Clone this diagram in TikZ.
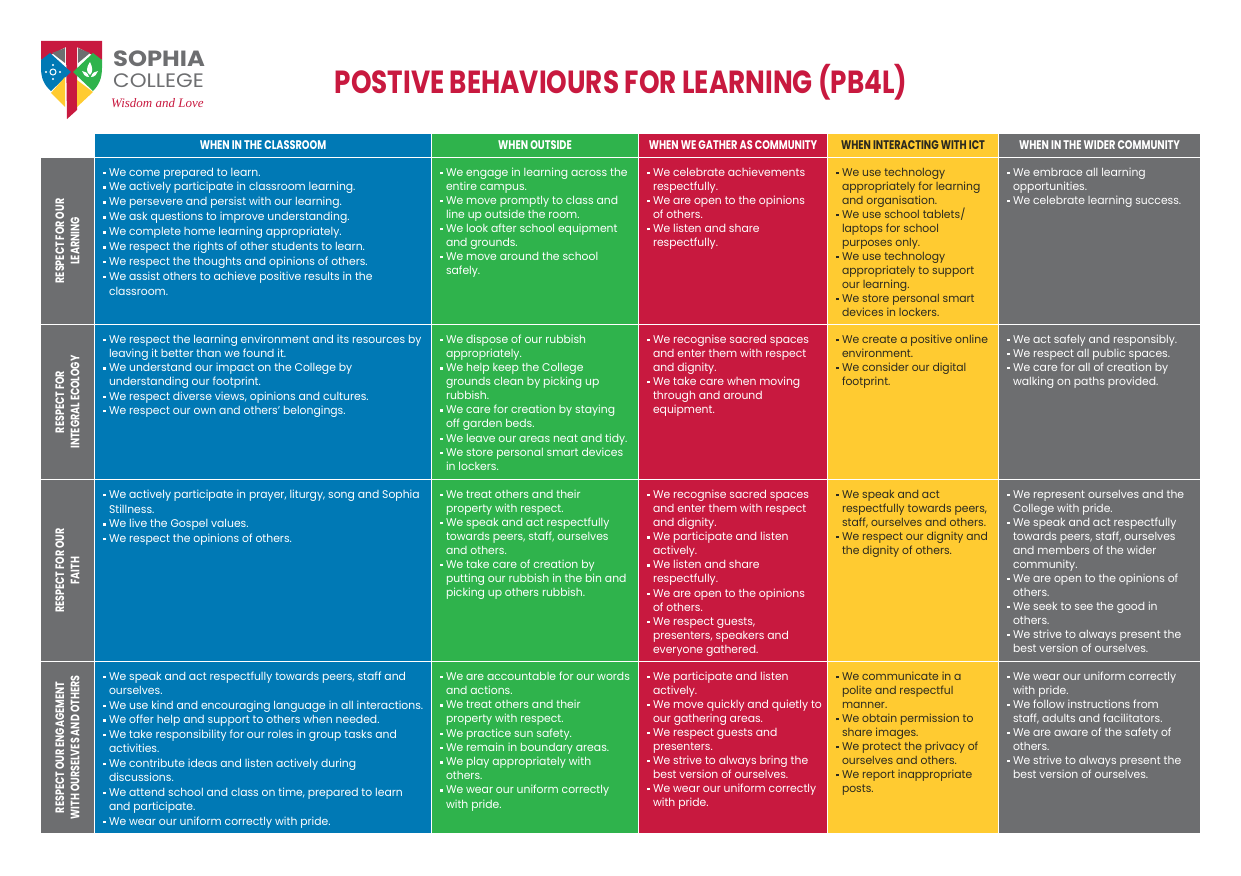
\documentclass[tikz,border=0pt]{standalone}
\usepackage{fontspec}
\setmainfont[FakeStretch=0.965]{Poppins}
\newfontfamily\headf[FakeStretch=0.78]{Poppins Bold}
\newfontfamily\titlef[FakeStretch=0.82]{Poppins Bold}
\newfontfamily\logof[FakeStretch=1.1]{Poppins}
\newfontfamily\scriptf{Liberation Serif}
\definecolor{cblue}{HTML}{0079B5}
\definecolor{cgreen}{HTML}{2FB34C}
\definecolor{cred}{HTML}{C8193F}
\definecolor{cyellow}{HTML}{FFCB31}
\definecolor{cgray}{HTML}{6D6E70}
\definecolor{cdark}{HTML}{2B2A20}
\newcommand{\I}{\makebox[6pt][l]{\raisebox{2pt}{\rule{2.5pt}{2.5pt}}}}
\newcommand{\C}{\hspace*{6pt}}
\newcommand{\bodyfs}[1]{\fontsize{11.2}{#1}\selectfont}
\tikzset{
  cellbox/.style={anchor=north west,inner sep=0pt,outer sep=0pt,draw=none},
  celltext/.style={anchor=north west,inner sep=0pt,outer sep=0pt,align=left},
  headtext/.style={anchor=center,inner sep=0pt,font=\headf\fontsize{12.5}{14}\selectfont},
  sidetext/.style={anchor=center,inner sep=0pt,rotate=90,align=center,text=white,font=\headf\fontsize{12.2}{15.2}\selectfont},
}
% name, x, y, w, h, fill, textcolour, leading, text
\newcommand{\bodycell}[9]{%
  \node[cellbox,fill=#6,minimum width=#4pt,minimum height=#5pt] (#1) at (#2,#3) {};
  \node[celltext,text=#7,font=\bodyfs{#8}] (#1t) at ([shift={(8pt,-9.8pt)}]#1.north west) {#9};
}
\newcommand{\headcell}[7]{%
  \node[cellbox,fill=#6,minimum width=#4pt,minimum height=#5pt] (#1) at (#2,#3) {};
  \node[headtext,text=#7] (#1t) at (#1.center) {\csname hd#1\endcsname};
}
\newcommand{\sidecell}[6]{%
  \node[cellbox,fill=cgray,minimum width=#4pt,minimum height=#5pt] (#1) at (#2,#3) {};
  \node[sidetext] (#1t) at (#1.center) {#6};
}
\expandafter\def\csname hdh1\endcsname{WHEN IN THE CLASSROOM}
\expandafter\def\csname hdh2\endcsname{WHEN OUTSIDE}
\expandafter\def\csname hdh3\endcsname{WHEN WE GATHER AS COMMUNITY}
\expandafter\def\csname hdh4\endcsname{WHEN INTERACTING WITH ICT}
\expandafter\def\csname hdh5\endcsname{WHEN IN THE WIDER COMMUNITY}
\begin{document}
\begin{tikzpicture}[x=1pt,y=-1pt]
\useasboundingbox (0,0) rectangle (1241,875);
% logo
\fill[cred] (41,41) -- (102,41) -- (102,60) -- (77,47) -- (77,110) -- (67,119) -- (66,47) -- (41,60) -- cycle;
\fill[cgray] (52,53) -- (65,48) -- (65,63) -- cycle;
\fill[cgray] (78,48) -- (90,53) -- (78,63) -- cycle;
\fill[cblue] (41,60) -- (50,53) -- (71,72) -- (51,91) .. controls (44,85) and (41,78) .. (41,68) -- cycle;
\fill[cgreen] (102,60) -- (93,53) -- (73,72) -- (93,91) .. controls (99,85) and (102,78) .. (102,68) -- cycle;
\fill[cyellow] (51,93) -- (65,77) -- (65,107) -- cycle;
\fill[cyellow] (77,80) -- (93,92) -- (77,107) -- cycle;
\foreach \a/\b in {46/72,53/65,53/79,60/72} \fill[white] (\a,\b) circle (1.2pt);
\draw[white,line width=1pt] (53,72) circle (3pt);
\fill[white] (90,75) .. controls (86,72) and (86,68) .. (90,62) .. controls (93,68) and (93,72) .. (90,75) -- cycle;
\fill[white] (89,77) .. controls (85,77) and (83,74) .. (82,71) .. controls (85,71) and (88,73) .. (89,77) -- cycle;
\fill[white] (91,77) .. controls (95,77) and (97,74) .. (98,71) .. controls (95,71) and (92,73) .. (91,77) -- cycle;
\node[anchor=west,inner sep=0pt,text=cgray,font=\logof\bfseries\fontsize{22}{22}\selectfont] (logoa) at (113,59) {SOPHIA};
\node[anchor=west,inner sep=0pt,text=cgray,font=\logof\fontsize{19.5}{20}\selectfont] (logob) at (113,80.5) {COLLEGE};
\node[anchor=west,inner sep=0pt,text=cred,font=\scriptf\itshape\fontsize{13}{14}\selectfont] (logoc) at (111,103.5) {Wisdom and Love};
% title
\node[anchor=center,inner sep=0pt,text=cred,font=\titlef\fontsize{32}{34}\selectfont] (title) at (621,82) {POSTIVE BEHAVIOURS FOR LEARNING (PB4L)};
% headers
\headcell{h1}{95}{134}{336}{23}{cblue}{white}
\headcell{h2}{432}{134}{206}{23}{cgreen}{white}
\headcell{h3}{639}{134}{188}{23}{cred}{white}
\headcell{h4}{828}{134}{170}{23}{cyellow}{cdark}
\headcell{h5}{999}{134}{201}{23}{cgray}{white}
% side
\sidecell{s1}{41}{158}{53}{166}{RESPECT FOR OUR\\LEARNING}
\sidecell{s2}{41}{325}{53}{154}{RESPECT FOR\\INTEGRAL ECOLOGY}
\sidecell{s3}{41}{480}{53}{181}{RESPECT FOR OUR\\FAITH}
\sidecell{s4}{41}{662}{53}{171}{RESPECT OUR ENGAGEMENT\\WITH OURSELVES AND OTHERS}
% row 1
\bodycell{c11}{95}{158}{336}{166}{cblue}{white}{14.9}{\I We come prepared to learn.\\\I We actively participate in classroom learning.\\\I We persevere and persist with our learning.\\\I We ask questions to improve understanding.\\\I We complete home learning appropriately.\\\I We respect the rights of other students to learn.\\\I We respect the thoughts and opinions of others.\\\I We assist others to achieve positive results in the\\\C classroom.}
\bodycell{c12}{432}{158}{206}{166}{cgreen}{white}{14}{\I We engage in learning across the\\\C entire campus.\\\I We move promptly to class and\\\C line up outside the room.\\\I We look after school equipment\\\C and grounds.\\\I We move around the school\\\C safely.}
\bodycell{c13}{639}{158}{188}{166}{cred}{white}{14}{\I We celebrate achievements\\\C respectfully.\\\I We are open to the opinions\\\C of others.\\\I We listen and share\\\C respectfully.}
\bodycell{c14}{828}{158}{170}{166}{cyellow}{cdark}{14}{\I We use technology\\\C appropriately for learning\\\C and organisation.\\\I We use school tablets/\\\C laptops for school\\\C purposes only.\\\I We use technology\\\C appropriately to support\\\C our learning.\\\I We store personal smart\\\C devices in lockers.}
\bodycell{c15}{999}{158}{201}{166}{cgray}{white}{14}{\I We embrace all learning\\\C opportunities.\\\I We celebrate learning success.}
% row 2
\bodycell{c21}{95}{325}{336}{154}{cblue}{white}{14.2}{\I We respect the learning environment and its resources by\\\C leaving it better than we found it.\\\I We understand our impact on the College by\\\C understanding our footprint.\\\I We respect diverse views, opinions and cultures.\\\I We respect our own and others’ belongings.}
\bodycell{c22}{432}{325}{206}{154}{cgreen}{white}{14.1}{\I We dispose of our rubbish\\\C appropriately.\\\I We help keep the College\\\C grounds clean by picking up\\\C rubbish.\\\I We care for creation by staying\\\C off garden beds.\\\I We leave our areas neat and tidy.\\\I We store personal smart devices\\\C in lockers.}
\bodycell{c23}{639}{325}{188}{154}{cred}{white}{14}{\I We recognise sacred spaces\\\C and enter them with respect\\\C and dignity.\\\I We take care when moving\\\C through and around\\\C equipment.}
\bodycell{c24}{828}{325}{170}{154}{cyellow}{cdark}{14}{\I We create a positive online\\\C environment.\\\I We consider our digital\\\C footprint.}
\bodycell{c25}{999}{325}{201}{154}{cgray}{white}{14}{\I We act safely and responsibly.\\\I We respect all public spaces.\\\I We care for all of creation by\\\C walking on paths provided.}
% row 3
\bodycell{c31}{95}{480}{336}{181}{cblue}{white}{14.7}{\I We actively participate in prayer, liturgy, song and Sophia\\\C Stillness.\\\I We live the Gospel values.\\\I We respect the opinions of others.}
\bodycell{c32}{432}{480}{206}{181}{cgreen}{white}{14}{\I We treat others and their\\\C property with respect.\\\I We speak and act respectfully\\\C towards peers, staff, ourselves\\\C and others.\\\I We take care of creation by\\\C putting our rubbish in the bin and\\\C picking up others rubbish.}
\bodycell{c33}{639}{480}{188}{181}{cred}{white}{14.1}{\I We recognise sacred spaces\\\C and enter them with respect\\\C and dignity.\\\I We participate and listen\\\C actively.\\\I We listen and share\\\C respectfully.\\\I We are open to the opinions\\\C of others.\\\I We respect guests,\\\C presenters, speakers and\\\C everyone gathered.}
\bodycell{c34}{828}{480}{170}{181}{cyellow}{cdark}{14}{\I We speak and act\\\C respectfully towards peers,\\\C staff, ourselves and others.\\\I We respect our dignity and\\\C the dignity of others.}
\bodycell{c35}{999}{480}{201}{181}{cgray}{white}{14}{\I We represent ourselves and the\\\C College with pride.\\\I We speak and act respectfully\\\C towards peers, staff, ourselves\\\C and members of the wider\\\C community.\\\I We are open to the opinions of\\\C others.\\\I We seek to see the good in\\\C others.\\\I We strive to always present the\\\C best version of ourselves.}
% row 4
\bodycell{c41}{95}{662}{336}{171}{cblue}{white}{14.5}{\I We speak and act respectfully towards peers, staff and\\\C ourselves.\\\I We use kind and encouraging language in all interactions.\\\I We offer help and support to others when needed.\\\I We take responsibility for our roles in group tasks and\\\C activities.\\\I We contribute ideas and listen actively during\\\C discussions.\\\I We attend school and class on time, prepared to learn\\\C and participate.\\\I We wear our uniform correctly with pride.}
\bodycell{c42}{432}{662}{206}{171}{cgreen}{white}{14.2}{\I We are accountable for our words\\\C and actions.\\\I We treat others and their\\\C property with respect.\\\I We practice sun safety.\\\I We remain in boundary areas.\\\I We play appropriately with\\\C others.\\\I We wear our uniform correctly\\\C with pride.}
\bodycell{c43}{639}{662}{188}{171}{cred}{white}{14}{\I We participate and listen\\\C actively.\\\I We move quickly and quietly to\\\C our gathering areas.\\\I We respect guests and\\\C presenters.\\\I We strive to always bring the\\\C best version of ourselves.\\\I We wear our uniform correctly\\\C with pride.}
\bodycell{c44}{828}{662}{170}{171}{cyellow}{cdark}{14}{\I We communicate in a\\\C polite and respectful\\\C manner.\\\I We obtain permission to\\\C share images.\\\I We protect the privacy of\\\C ourselves and others.\\\I We report inappropriate\\\C posts.}
\bodycell{c45}{999}{662}{201}{171}{cgray}{white}{14}{\I We wear our uniform correctly\\\C with pride.\\\I We follow instructions from\\\C staff, adults and facilitators.\\\I We are aware of the safety of\\\C others.\\\I We strive to always present the\\\C best version of ourselves.}
\end{tikzpicture}
\end{document}
